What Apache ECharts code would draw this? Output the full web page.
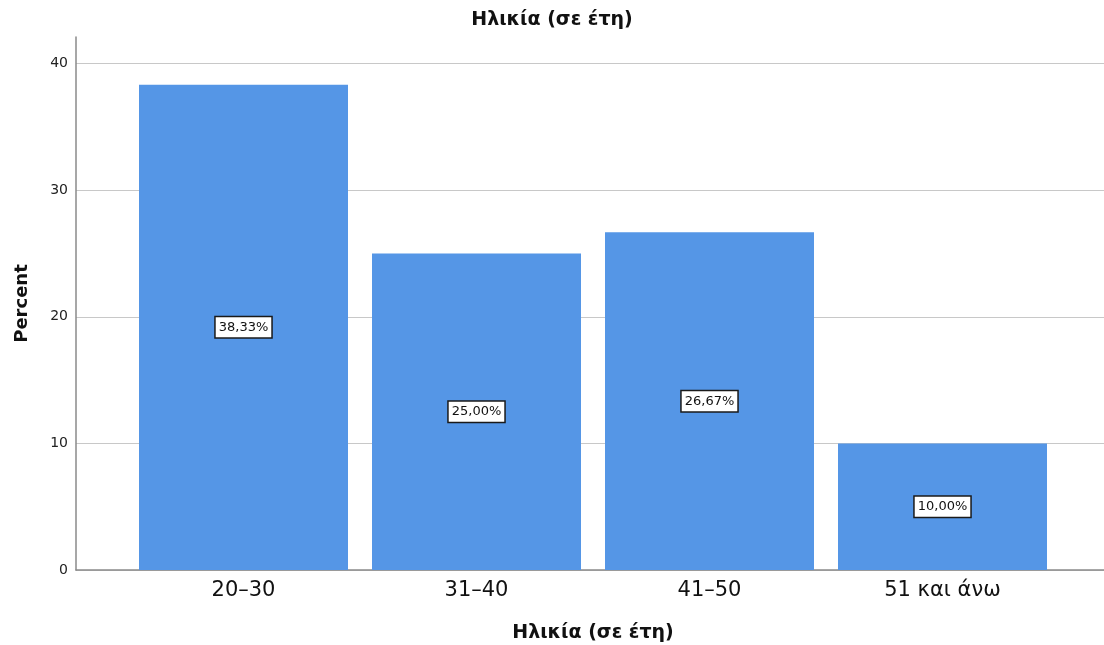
<!DOCTYPE html>
<html>
<head>
<meta charset="utf-8">
<script src="https://cdn.jsdelivr.net/npm/echarts@6/dist/echarts.min.js"></script>
<style>
  html, body { margin: 0; padding: 0; background: #fff; }
  #chart { width: 1104px; height: 645px; }
</style>
</head>
<body>
<div id="chart"></div>
<script>
// Age groups and their share of respondents (%)
const categories = ['20–30', '31–40', '41–50', '51 και άνω'];
const percents = [38.33, 25.00, 26.67, 10.00];
const yTicks = [0, 10, 20, 30, 40];

const FONT = '"DejaVu Sans", Verdana, sans-serif';
const Y_MAX = 42.1;

const GRID_COLOR = '#c8c8c8';
// one colour per split line: 0..40 visible, the extra line at the axis top hidden
const splitColors = yTicks.map(() => GRID_COLOR).concat(['rgba(0,0,0,0)']);

const chart = echarts.init(document.getElementById('chart'), null, { renderer: 'canvas' });

chart.setOption({
  animation: false,
  backgroundColor: '#ffffff',
  textStyle: { fontFamily: FONT },
  title: {
    text: 'Ηλικία (σε έτη)',
    left: 'center',
    top: 6,
    textStyle: { fontFamily: FONT, fontSize: 19, fontWeight: 'bold', color: '#111' }
  },
  grid: [
    // frame grid: axes, gridlines
    { left: 76, right: 0, top: 37, bottom: 75, outerBoundsMode: 'none', containLabel: false },
    // bar grid: inset horizontally so the bars sit between the axis ends
    { left: 127, right: 45, top: 37, bottom: 75, outerBoundsMode: 'none', containLabel: false }
  ],
  xAxis: [
    {
      gridIndex: 0,
      type: 'value',
      min: 0, max: 1,
      axisLine: { show: true, lineStyle: { color: '#8a8a8a', width: 1.5 } },
      axisTick: { show: false },
      axisLabel: { show: false },
      splitLine: { show: false }
    },
    {
      gridIndex: 1,
      type: 'category',
      data: categories,
      axisLine: { show: false },
      axisTick: { show: false },
      axisLabel: { fontFamily: FONT, fontSize: 21, color: '#111', margin: 10 },
      name: 'Ηλικία (σε έτη)',
      nameLocation: 'middle',
      nameGap: 54,
      nameTextStyle: { fontFamily: FONT, fontSize: 19, fontWeight: 'bold', color: '#111' }
    }
  ],
  yAxis: [
    {
      gridIndex: 0,
      type: 'value',
      min: 0, max: Y_MAX,
      interval: 10,
      axisLine: { show: true, lineStyle: { color: '#8a8a8a', width: 1.5 } },
      axisTick: { show: false },
      axisLabel: {
        fontFamily: FONT, fontSize: 14, color: '#222', margin: 8,
        formatter: v => (yTicks.includes(v) ? String(v) : '')
      },
      splitLine: { show: true, lineStyle: { color: splitColors, width: 1.2 } },
      name: 'Percent',
      nameLocation: 'middle',
      nameGap: 45,
      nameRotate: 90,
      nameTextStyle: { fontFamily: FONT, fontSize: 18, fontWeight: 'bold', color: '#111' }
    },
    {
      gridIndex: 1,
      type: 'value',
      min: 0, max: Y_MAX,
      show: false
    }
  ],
  series: [{
    type: 'bar',
    xAxisIndex: 1,
    yAxisIndex: 1,
    data: percents,
    barWidth: 209,
    itemStyle: { color: '#5596e6' },
    label: {
      show: true,
      position: 'inside',
      formatter: p => p.value.toFixed(2).replace('.', ',') + '%',
      fontFamily: FONT,
      fontSize: 13,
      color: '#111',
      backgroundColor: '#ffffff',
      borderColor: '#1a1a1a',
      borderWidth: 1.5,
      padding: [4, 3, 3, 3]
    }
  }]
});
</script>
</body>
</html>
